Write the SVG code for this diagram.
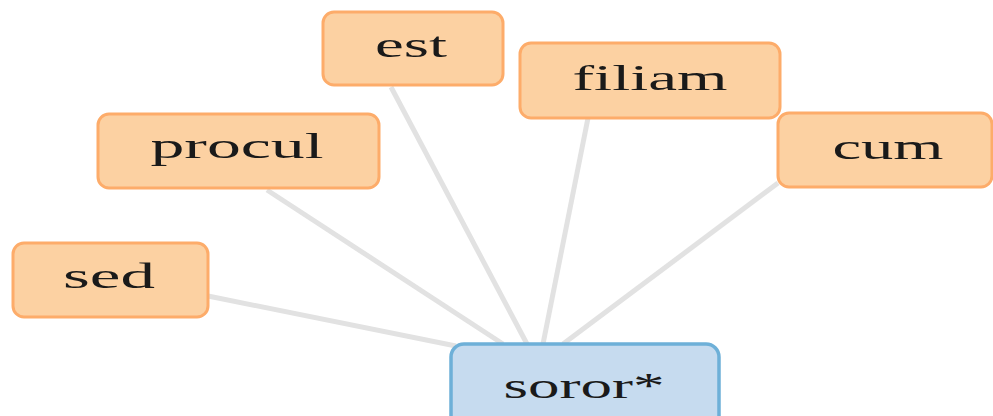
<svg xmlns="http://www.w3.org/2000/svg" width="993" height="416" viewBox="0 0 993 416">
<style>
.edge{stroke:#e2e2e2;stroke-width:5;fill:none;stroke-linecap:butt}
.leaf rect{fill:#fcd1a2;stroke:#fdac6a;stroke-width:3}
.root rect{fill:#c6dbef;stroke:#6eb0d8;stroke-width:3.5}
text{font-family:"Liberation Serif","DejaVu Serif",serif;font-size:36px;fill:#1a1a1a;text-anchor:middle}
</style>
<rect width="993" height="416" fill="#fff"/>
<g id="connectors">
<line class="edge" x1="208" y1="296" x2="456" y2="346"/>
<line class="edge" x1="267" y1="190" x2="503" y2="344"/>
<line class="edge" x1="391" y1="87" x2="527" y2="344"/>
<line class="edge" x1="588" y1="118" x2="543" y2="344"/>
<line class="edge" x1="778" y1="183" x2="563" y2="344"/>
</g>
<g id="sed" class="leaf"><rect x="13" y="243" width="195" height="74" rx="11"/><text x="109" y="288" textLength="92" lengthAdjust="spacingAndGlyphs">sed</text></g>
<g id="procul" class="leaf"><rect x="98" y="114" width="281" height="74" rx="11"/><text x="237" y="158" textLength="173" lengthAdjust="spacingAndGlyphs">procul</text></g>
<g id="est" class="leaf"><rect x="323" y="12" width="180" height="73" rx="11"/><text x="411" y="57" textLength="72" lengthAdjust="spacingAndGlyphs">est</text></g>
<g id="filiam" class="leaf"><rect x="520" y="43" width="260" height="75" rx="11"/><text x="650" y="90" textLength="155" lengthAdjust="spacingAndGlyphs">filiam</text></g>
<g id="cum" class="leaf"><rect x="778" y="113" width="214" height="74" rx="11"/><text x="888" y="159" textLength="111" lengthAdjust="spacingAndGlyphs">cum</text></g>
<g id="soror" class="root"><rect x="451" y="344" width="268" height="90" rx="13"/><text x="584" y="398" textLength="161" lengthAdjust="spacingAndGlyphs">soror*</text></g>
</svg>
